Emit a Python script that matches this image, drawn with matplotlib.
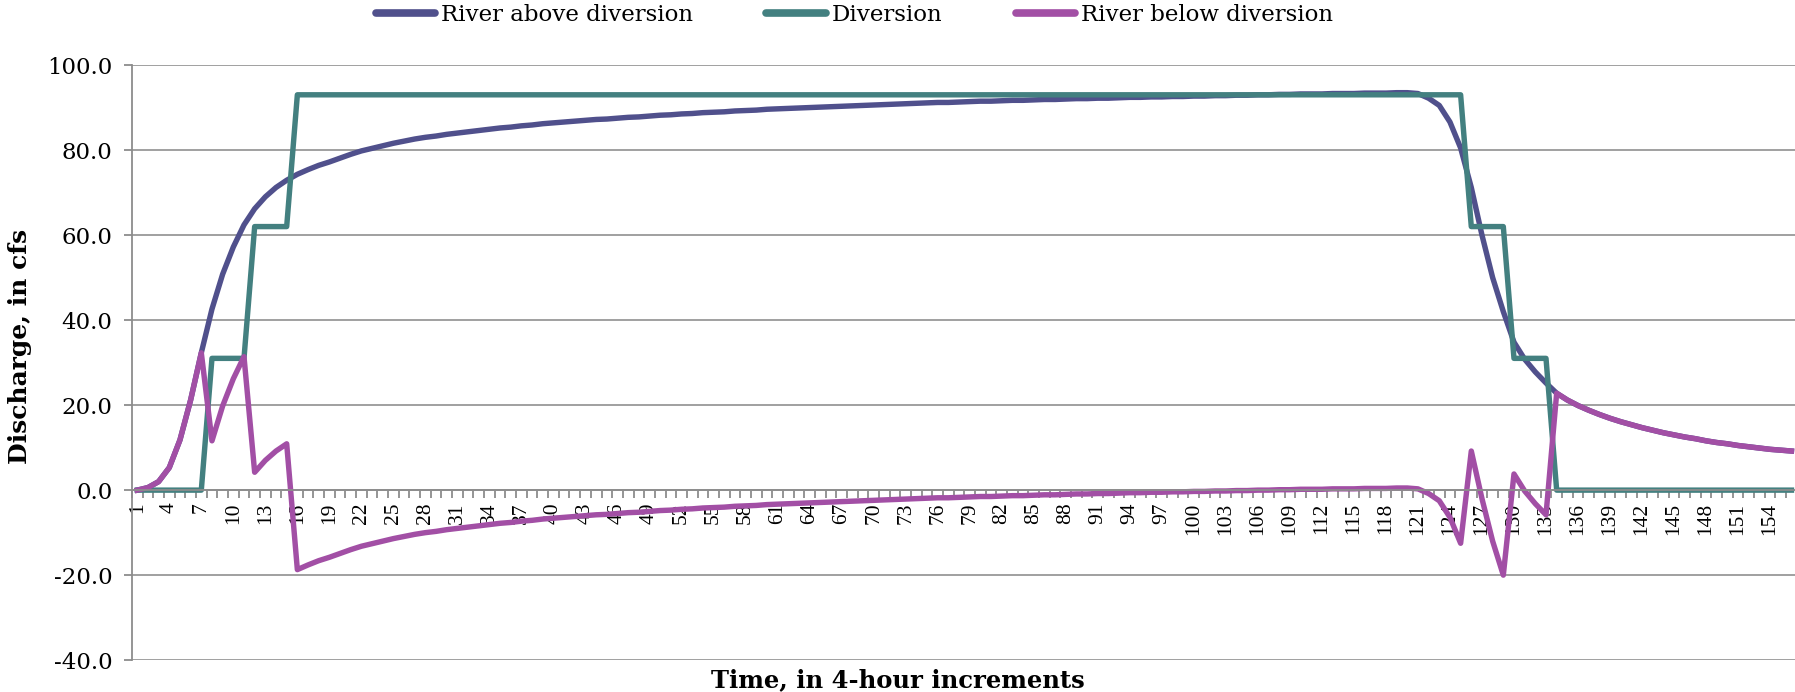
import numpy as np
import matplotlib.pyplot as plt
from matplotlib.ticker import FixedLocator, FormatStrFormatter

# time step (4-hour increments)
steps = np.arange(1, 157)

# River above diversion, cfs
above = [
    0.0, 0.6, 2.0, 5.3, 11.8, 21.2, 32.3, 42.6, 50.8, 57.2,
    62.4, 66.2, 69.0, 71.2, 72.9, 74.3, 75.4, 76.4, 77.2, 78.1,
    79.0, 79.8, 80.4, 81.0, 81.6, 82.1, 82.6, 83.0, 83.3, 83.7,
    84.0, 84.3, 84.6, 84.9, 85.2, 85.4, 85.7, 85.9, 86.2, 86.4,
    86.6, 86.8, 87.0, 87.2, 87.3, 87.5, 87.7, 87.8, 88.0, 88.2,
    88.3, 88.5, 88.6, 88.8, 88.9, 89.0, 89.2, 89.3, 89.4, 89.6,
    89.7, 89.8, 89.9, 90.0, 90.1, 90.2, 90.3, 90.4, 90.5, 90.6,
    90.7, 90.8, 90.9, 91.0, 91.1, 91.2, 91.2, 91.3, 91.4, 91.5,
    91.5, 91.6, 91.7, 91.7, 91.8, 91.9, 91.9, 92.0, 92.1, 92.1,
    92.2, 92.2, 92.3, 92.4, 92.4, 92.5, 92.5, 92.6, 92.6, 92.7,
    92.7, 92.8, 92.8, 92.9, 92.9, 93.0, 93.0, 93.1, 93.1, 93.2,
    93.2, 93.2, 93.3, 93.3, 93.3, 93.4, 93.4, 93.4, 93.5, 93.5,
    93.3, 92.2, 90.5, 86.6, 80.5, 71.2, 60.0, 50.0, 42.0, 34.8,
    30.8, 27.8, 25.2, 22.8, 21.2, 19.9, 18.8, 17.8, 16.9, 16.1,
    15.4, 14.7, 14.1, 13.5, 13.0, 12.5, 12.1, 11.6, 11.2, 10.9,
    10.5, 10.2, 9.9, 9.6, 9.4, 9.2,
]

# Diversion, cfs
diversion = (
    [0.0] * 7 + [31.0] * 4 + [62.0] * 4 + [93.0] * 110
    + [62.0] * 4 + [31.0] * 4 + [0.0] * 23
)

# River below diversion, cfs
below = [
    0.0, 0.6, 2.0, 5.3, 11.8, 21.2, 32.3, 11.6, 19.8, 26.2,
    31.4, 4.2, 7.0, 9.2, 10.9, -18.7, -17.6, -16.6, -15.8, -14.9,
    -14.0, -13.2, -12.6, -12.0, -11.4, -10.9, -10.4, -10.0, -9.7, -9.3,
    -9.0, -8.7, -8.4, -8.1, -7.8, -7.6, -7.3, -7.1, -6.8, -6.6,
    -6.4, -6.2, -6.0, -5.8, -5.7, -5.5, -5.3, -5.2, -5.0, -4.8,
    -4.7, -4.5, -4.4, -4.2, -4.1, -4.0, -3.8, -3.7, -3.6, -3.4,
    -3.3, -3.2, -3.1, -3.0, -2.9, -2.8, -2.7, -2.6, -2.5, -2.4,
    -2.3, -2.2, -2.1, -2.0, -1.9, -1.8, -1.8, -1.7, -1.6, -1.5,
    -1.5, -1.4, -1.3, -1.3, -1.2, -1.1, -1.1, -1.0, -0.9, -0.9,
    -0.8, -0.8, -0.7, -0.6, -0.6, -0.5, -0.5, -0.4, -0.4, -0.3,
    -0.3, -0.2, -0.2, -0.1, -0.1, 0.0, 0.0, 0.1, 0.1, 0.2,
    0.2, 0.2, 0.3, 0.3, 0.3, 0.4, 0.4, 0.4, 0.5, 0.5,
    0.3, -0.8, -2.5, -6.4, -12.5, 9.2, -2.0, -12.0, -20.0, 3.8,
    -0.2, -3.2, -5.8, 22.8, 21.2, 19.9, 18.8, 17.8, 16.9, 16.1,
    15.4, 14.7, 14.1, 13.5, 13.0, 12.5, 12.1, 11.6, 11.2, 10.9,
    10.5, 10.2, 9.9, 9.6, 9.4, 9.2,
]

labelled = list(range(1, 157, 3))
grey = '#8c8c8c'
serif = ['DejaVu Serif']

fig = plt.figure(figsize=(17.95, 6.92), dpi=100)
ax = fig.add_axes([0.0735, 0.046, 0.9275, 0.86])

ax.plot(steps, above, color='#50508c', lw=3.9, label='River above diversion')
ax.plot(steps, diversion, color='#438080', lw=3.9, label='Diversion')
ax.plot(steps, below, color='#a24fa5', lw=3.9, label='River below diversion')

ax.set_xlim(0.5, 156.5)
ax.set_ylim(-40, 100)

for s in ['top', 'right']:
    ax.spines[s].set_visible(False)
ax.spines['left'].set_color(grey)
ax.spines['left'].set_linewidth(1.3)
ax.spines['bottom'].set_position(('data', 0))
ax.spines['bottom'].set_color(grey)
ax.spines['bottom'].set_linewidth(1.3)

ax.set_yticks(np.arange(-40, 101, 20))
ax.yaxis.set_major_formatter(FormatStrFormatter('%.1f'))
ax.grid(axis='y', color='#999999', lw=1.3)
ax.set_axisbelow(True)
ax.tick_params(axis='y', direction='out', length=6, color=grey, width=1.3, pad=8)
for t in ax.get_yticklabels():
    t.set_family(serif)
    t.set_fontsize(16.5)

ax.xaxis.set_major_locator(FixedLocator(labelled))
ax.xaxis.set_minor_locator(FixedLocator(np.arange(0.5, 157, 1)))
ax.set_xticklabels([str(v) for v in labelled], rotation=90,
                   family='Liberation Serif', fontsize=15.5)
ax.tick_params(axis='x', which='major', length=0, pad=9)
ax.tick_params(axis='x', which='minor', direction='out', length=6,
               color=grey, width=1.3)

fig.text(0.011, 0.5, 'Discharge, in cfs', rotation=90, ha='center', va='center',
         family=serif, fontweight='bold', fontsize=18)
fig.text(0.5, 0.017, 'Time, in 4-hour increments', ha='center', va='center',
         family=serif, fontweight='bold', fontsize=17.5)

leg = fig.legend(loc='center', bbox_to_anchor=(0.476, 0.979), ncol=3,
                 frameon=False, prop={'family': serif, 'size': 16.5},
                 handlelength=2.6, handletextpad=0.25, columnspacing=3.2)
for line in leg.get_lines():
    line.set_linewidth(5.5)
    line.set_solid_capstyle('round')

fig.savefig('out.png', dpi=100)
